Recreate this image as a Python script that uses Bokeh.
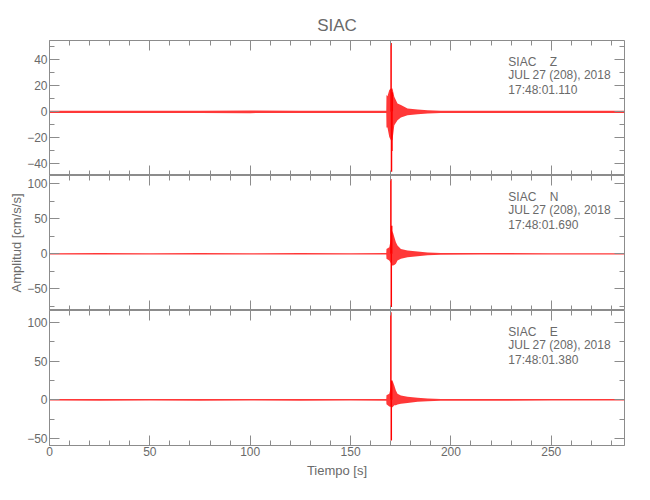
from bokeh.plotting import figure
from bokeh.layouts import column
from bokeh.models import (Range1d, LinearAxis, SingleIntervalTicker, Label, Title,
                          CustomJSTickFormatter)
from bokeh.embed import file_html
from bokeh.resources import INLINE

# ---------------- data ----------------
station = "SIAC"
components = ["Z", "N", "E"]
date_text = "JUL 27 (208), 2018"
start_times = ["17:48:01.110", "17:48:01.690", "17:48:01.380"]
time_max = 286.5
y_limits = [(-48.9, 54.8), (-81.0, 112.0), (-59.0, 115.4)]
y_tick_steps = [20, 50, 50]
x_label = "Tiempo [s]"
y_label = "Amplitud [cm/s/s]"

# envelope of the trace (time in s, upper / lower amplitude in cm/s/s)
z_env_t = [0, 25, 50, 75, 100, 125, 150, 167.8, 167.9, 168.4, 169.3, 170.1, 170.9, 171.8,
           173.4, 175.1, 178.4, 183.4, 188.4, 195.0, 215, 250, 286.5]
z_env_hi = [0.8, 0.9, 0.8, 0.9, 1.0, 0.8, 0.9, 0.9, 12.9, 12.0, 16.7, 18.0, 18.0, 11.6,
            6.5, 5.2, 2.6, 1.8, 1.3, 0.9, 0.9, 0.8, 0.8]
z_env_lo = [-0.8, -0.9, -0.8, -0.9, -1.0, -0.8, -0.9, -0.9, -12.0, -12.0, -19.3, -21.8, -21.8, -10.3,
            -6.4, -4.3, -2.6, -1.8, -1.3, -0.9, -0.9, -0.8, -0.8]
# largest excursions of the main arrival
z_spike_t = [170.2, 170.4, 170.6, 170.8]
z_spike_v = [52.8, -46.0, -30.0, 15.0]

n_env_t = [0, 25, 50, 75, 100, 125, 150, 167.8, 167.9, 169.3, 170.9, 171.8, 172.6, 173.4,
           175.1, 178.4, 183.4, 188.4, 195.0, 215, 250, 286.5]
n_env_hi = [1.0, 1.1, 1.0, 1.1, 1.0, 1.1, 1.0, 1.1, 7.0, 9.5, 33.0, 24.0, 16.6, 12.0,
            7.0, 4.8, 3.3, 1.9, 1.2, 1.1, 1.0, 1.0]
n_env_lo = [-1.0, -1.1, -1.0, -1.1, -1.0, -1.1, -1.0, -1.1, -7.0, -9.5, -17.0, -16.0, -14.3, -9.5,
            -7.0, -4.8, -3.3, -1.9, -1.2, -1.1, -1.0, -1.0]
n_spike_t = [170.1, 170.3, 170.5]
n_spike_v = [107.0, -76.0, 40.0]

e_env_t = [0, 25, 50, 75, 100, 125, 150, 167.8, 167.9, 169.3, 170.9, 171.8, 172.6, 173.4,
           175.1, 178.4, 183.4, 188.4, 195.0, 215, 250, 286.5]
e_env_hi = [1.0, 1.1, 1.0, 1.1, 1.0, 1.1, 1.0, 1.1, 5.8, 7.7, 25.0, 18.5, 12.0, 7.7,
            5.6, 4.0, 2.6, 1.7, 1.1, 1.1, 1.0, 1.0]
e_env_lo = [-1.0, -1.1, -1.0, -1.1, -1.0, -1.1, -1.0, -1.1, -5.8, -8.7, -9.5, -7.0, -7.0, -6.0,
            -5.2, -4.0, -2.6, -1.7, -1.1, -1.1, -1.0, -1.0]
e_spike_t = [170.1, 170.3, 170.5]
e_spike_v = [113.0, -52.5, 25.0]

envs = [(z_env_t, z_env_hi, z_env_lo), (n_env_t, n_env_hi, n_env_lo), (e_env_t, e_env_hi, e_env_lo)]
spikes = [(z_spike_t, z_spike_v), (n_spike_t, n_spike_v), (e_spike_t, e_spike_v)]

# ---------------- style ----------------
FONT = "Liberation Sans"
AX = "#8c8c8c"
TX = "#6a6a6a"
RED = "#ff0000"
FRAME_H = 135
LEFT, RIGHT = 49, 10
W = LEFT + 575 + RIGHT

x_range = Range1d(0, time_max)


def add_axis(p, side, ticker, labels, fixed=None):
    ax = LinearAxis(ticker=ticker)
    ax.axis_line_color = AX
    ax.major_tick_line_color = AX
    ax.minor_tick_line_color = AX
    ax.major_tick_in = 10
    ax.major_tick_out = 0
    ax.minor_tick_in = 5
    ax.minor_tick_out = 0
    if labels:
        ax.major_label_text_font = FONT
        ax.major_label_text_font_size = "12px"
        ax.major_label_text_color = TX
        ax.major_label_standoff = 2
    else:
        ax.formatter = CustomJSTickFormatter(code="return ''")
        ax.major_label_text_color = None
        ax.major_label_standoff = 0
        ax.fixed_location = fixed
    p.add_layout(ax, side)
    return ax


panels = []
for i in range(3):
    top = 40 if i == 0 else 0
    bottom = 36 if i == 2 else 0
    ymin, ymax = y_limits[i]
    p = figure(width=W, height=FRAME_H + top + bottom, x_range=x_range,
               y_range=Range1d(ymin, ymax), output_backend="svg", toolbar_location=None,
               x_axis_location=None, y_axis_location=None,
               min_border_left=LEFT, min_border_right=RIGHT,
               min_border_top=top, min_border_bottom=bottom)
    p.grid.visible = False
    p.outline_line_color = AX
    p.background_fill_color = "white"
    p.border_fill_color = "white"

    xt = SingleIntervalTicker(interval=50, num_minor_ticks=5)
    yt = SingleIntervalTicker(interval=y_tick_steps[i], num_minor_ticks=2)
    ly = add_axis(p, "left", yt, True)
    add_axis(p, "right", yt, False, fixed=time_max)
    add_axis(p, "above", xt, False, fixed=ymax)
    if i == 2:
        bx = add_axis(p, "below", xt, True)
        bx.major_label_standoff = 1
        bx.axis_label = x_label
        bx.axis_label_text_font = FONT
        bx.axis_label_text_font_size = "13px"
        bx.axis_label_text_font_style = "normal"
        bx.axis_label_text_color = TX
        bx.axis_label_standoff = 4
    else:
        add_axis(p, "below", xt, False, fixed=ymin)
    if i == 1:
        ly.axis_label = y_label
        ly.axis_label_text_font = FONT
        ly.axis_label_text_font_size = "13px"
        ly.axis_label_text_font_style = "normal"
        ly.axis_label_text_color = TX
        ly.axis_label_standoff = 0
    if i == 0:
        p.title = Title(text=station, align="center", text_font=FONT, text_font_size="17px",
                        text_font_style="normal", text_color=TX, standoff=12)

    t, hi, lo = envs[i]
    p.varea(x=t, y1=lo, y2=hi, fill_color=RED, fill_alpha=0.78)
    st, sv = spikes[i]
    p.segment(x0=st, y0=[0] * len(st), x1=st, y1=sv, line_color=RED, line_width=1.5)

    scale = (ymax - ymin) / FRAME_H
    lines = [f"{station}\u00a0\u00a0\u00a0\u00a0{components[i]}", date_text, start_times[i]]
    for off, txt in zip([21.5, 34.5, 49.0], lines):
        p.add_layout(Label(x=228.6, y=ymax - off * scale, text=txt, text_font=FONT,
                           text_font_size="12px", text_color=TX, text_baseline="middle",
                           text_align="left"))
    panels.append(p)

layout = column(*panels, spacing=0)
open("out.html", "w").write(file_html(layout, INLINE))
